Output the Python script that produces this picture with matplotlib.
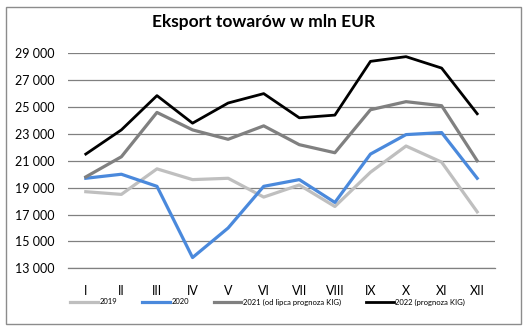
import matplotlib.pyplot as plt
from matplotlib.patches import Rectangle

months = ["I", "II", "III", "IV", "V", "VI", "VII", "VIII", "IX", "X", "XI", "XII"]

exp_2019 = [18700, 18500, 20400, 19600, 19700, 18300, 19200, 17600, 20150, 22100, 20900, 17200]
exp_2020 = [19700, 20000, 19100, 13800, 16000, 19100, 19600, 17900, 21500, 22950, 23100, 19700]
exp_2021 = [19800, 21300, 24600, 23300, 22600, 23600, 22200, 21600, 24800, 25400, 25100, 21000]
exp_2022 = [21500, 23300, 25850, 23800, 25300, 26000, 24200, 24400, 28400, 28750, 27900, 24500]

y_ticks = list(range(13000, 29001, 2000))

plt.rcParams["font.family"] = ["Lato", "DejaVu Sans"]

fig = plt.figure(figsize=(5.27, 3.31), dpi=100)
ax = fig.add_axes([68 / 527, 1 - 268.3 / 331, 427 / 527, (268.3 - 53.3) / 331])

x = range(len(months))
ax.plot(x, exp_2019, color="#BFBFBF", lw=2.3, label="2019")
ax.plot(x, exp_2020, color="#4A89DC", lw=2.3, label="2020")
ax.plot(x, exp_2021, color="#808080", lw=2.3, label="2021 (od lipca prognoza KIG)")
ax.plot(x, exp_2022, color="#000000", lw=2.0, label="2022 (prognoza KIG)")

ax.set_xlim(-0.5, len(months) - 0.5)
ax.set_ylim(13000, 29000)
ax.set_yticks(y_ticks)
ax.set_yticklabels([f"{v:,}".replace(",", " ") for v in y_ticks], fontsize=9)
ax.set_xticks(list(x))
ax.set_xticklabels(months, fontsize=9)
ax.tick_params(axis="both", length=0)
ax.tick_params(axis="x", pad=12)
ax.tick_params(axis="y", pad=10)

ax.grid(axis="y", color="#808080", lw=0.9)
ax.set_axisbelow(True)
for side in ["top", "right", "left"]:
    ax.spines[side].set_visible(False)
ax.spines["bottom"].set_color("#808080")
ax.spines["bottom"].set_linewidth(0.9)

fig.text(0.5, 1 - 22 / 331, "Eksport towarów w mln EUR", ha="center", va="center",
         fontsize=12.5, fontweight="bold")

fig.legend(loc="center", bbox_to_anchor=(0.508, 1 - 302 / 331), ncol=4, frameon=False,
           fontsize=5.5, handlelength=3.6, handletextpad=0.2, columnspacing=3.3)

fig.patches.append(Rectangle((6 / 527, 7 / 331), 515 / 527, 317 / 331, transform=fig.transFigure,
                             fill=False, edgecolor="#8C8C8C", lw=1))

fig.savefig("out.png", dpi=100)
